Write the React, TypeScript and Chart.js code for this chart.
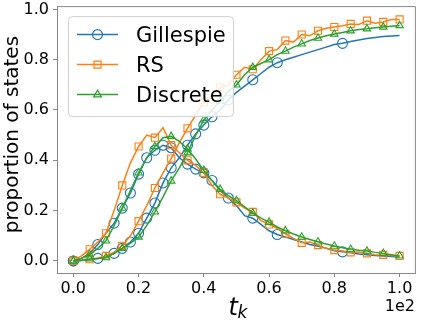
import React, { useEffect, useRef } from 'react';
import { Chart, registerables } from 'chart.js';
Chart.register(...registerables);

const T = [0, 2.5, 5, 7.5, 10, 12.5, 15, 17.5, 20, 22.5, 25, 27.5, 30, 32.5, 35, 37.5, 40, 42.5, 45, 47.5, 50, 52.5, 55, 57.5, 60, 62.5, 65, 67.5, 70, 72.5, 75, 77.5, 80, 82.5, 85, 87.5, 90, 92.5, 95, 97.5, 100];

const gillespieRise = [0, 0.002, 0.005, 0.01, 0.015, 0.03, 0.05, 0.075, 0.11, 0.17, 0.23, 0.31, 0.37, 0.41, 0.46, 0.505, 0.54, 0.573, 0.6, 0.64, 0.67, 0.695, 0.72, 0.745, 0.77, 0.788, 0.8, 0.81, 0.82, 0.83, 0.84, 0.85, 0.86, 0.865, 0.872, 0.878, 0.884, 0.888, 0.892, 0.894, 0.896];
const gillespieBump = [0, 0.01, 0.03, 0.065, 0.11, 0.15, 0.21, 0.27, 0.345, 0.41, 0.44, 0.46, 0.45, 0.41, 0.385, 0.365, 0.35, 0.32, 0.28, 0.25, 0.22, 0.18, 0.17, 0.145, 0.12, 0.105, 0.095, 0.085, 0.075, 0.065, 0.058, 0.05, 0.04, 0.036, 0.032, 0.028, 0.025, 0.022, 0.02, 0.018, 0.016];
const gillespieMarkT = [0, 7.5, 12.5, 15, 17.5, 20, 22.5, 25, 27.5, 30, 35, 37.5, 40, 42.5, 47.5, 55, 62.5, 82.5];

const rsRise = [0, 0.003, 0.007, 0.012, 0.02, 0.035, 0.06, 0.1, 0.158, 0.22, 0.29, 0.35, 0.407, 0.47, 0.527, 0.58, 0.63, 0.65, 0.69, 0.7, 0.74, 0.77, 0.762, 0.8, 0.834, 0.84, 0.876, 0.87, 0.9, 0.895, 0.915, 0.925, 0.93, 0.935, 0.942, 0.94, 0.955, 0.945, 0.95, 0.96, 0.96];
const rsBump = [0, 0.02, 0.046, 0.075, 0.11, 0.2, 0.3, 0.39, 0.455, 0.5, 0.49, 0.53, 0.46, 0.43, 0.4, 0.38, 0.35, 0.3, 0.265, 0.25, 0.233, 0.21, 0.195, 0.16, 0.145, 0.13, 0.108, 0.09, 0.072, 0.075, 0.063, 0.05, 0.043, 0.04, 0.034, 0.035, 0.03, 0.025, 0.024, 0.022, 0.02];

const discreteRise = [0, 0.003, 0.008, 0.01, 0.013, 0.03, 0.05, 0.07, 0.095, 0.14, 0.195, 0.255, 0.318, 0.37, 0.43, 0.5, 0.56, 0.6, 0.635, 0.675, 0.7, 0.74, 0.77, 0.785, 0.8, 0.82, 0.834, 0.85, 0.863, 0.876, 0.886, 0.895, 0.902, 0.908, 0.915, 0.92, 0.923, 0.927, 0.93, 0.933, 0.936];
const discreteBump = [0, 0.01, 0.025, 0.05, 0.08, 0.14, 0.21, 0.28, 0.35, 0.41, 0.455, 0.49, 0.495, 0.475, 0.445, 0.405, 0.36, 0.32, 0.285, 0.26, 0.24, 0.215, 0.19, 0.17, 0.154, 0.135, 0.12, 0.107, 0.095, 0.085, 0.076, 0.067, 0.059, 0.052, 0.046, 0.042, 0.039, 0.034, 0.03, 0.025, 0.02];

const X_TICKS = [0, 20, 40, 60, 80, 100];
const X_TICK_LABELS = ['0.0', '0.2', '0.4', '0.6', '0.8', '1.0'];
const Y_TICKS = [0, 0.2, 0.4, 0.6, 0.8, 1.0];
const Y_TICK_LABELS = ['0.0', '0.2', '0.4', '0.6', '0.8', '1.0'];
const LEGEND_LABELS = ['Gillespie', 'RS', 'Discrete'];

const BLUE = '#1f77b4';
const ORANGE = '#ff7f0e';
const GREEN = '#2ca02c';
const FONT = "'DejaVu Sans', sans-serif";
const SPINE = '#888';

function drawMarker(ctx: CanvasRenderingContext2D, style: string, x: number, y: number, r: number, color: string) {
  ctx.save();
  ctx.strokeStyle = color;
  ctx.lineWidth = 1.2;
  ctx.beginPath();
  if (style === 'circle') {
    ctx.arc(x, y, r, 0, Math.PI * 2);
  } else if (style === 'rect') {
    const s = r * Math.SQRT1_2;
    ctx.rect(x - s, y - s, 2 * s, 2 * s);
  } else {
    const h = r;
    ctx.moveTo(x, y - h);
    ctx.lineTo(x + h * 0.866, y + h * 0.5);
    ctx.lineTo(x - h * 0.866, y + h * 0.5);
    ctx.closePath();
  }
  ctx.stroke();
  ctx.restore();
}

const decor = {
  id: 'decor',
  afterDraw(chart: any) {
    const { ctx, chartArea: a } = chart;
    ctx.save();
    // top/right spines
    ctx.strokeStyle = SPINE;
    ctx.lineWidth = 1;
    ctx.beginPath();
    ctx.moveTo(a.left, a.top + 0.5);
    ctx.lineTo(a.right - 0.5, a.top + 0.5);
    ctx.lineTo(a.right - 0.5, a.bottom);
    ctx.stroke();

    // legend
    const lx = a.left + 11.5, ly = a.top + 10.5, lw = 165, lh = 100;
    ctx.beginPath();
    (ctx as any).roundRect(lx, ly, lw, lh, 4);
    ctx.fillStyle = 'rgba(255,255,255,0.85)';
    ctx.fill();
    ctx.strokeStyle = '#d0d0d0';
    ctx.lineWidth = 1;
    ctx.stroke();
    const colors = [BLUE, ORANGE, GREEN];
    const styles = ['circle', 'rect', 'triangle'];
    const radii = [5, 5, 4.5];
    for (let i = 0; i < 3; i++) {
      const y = a.top + 28.5 + i * 30;
      ctx.strokeStyle = colors[i];
      ctx.lineWidth = 1.5;
      ctx.beginPath();
      ctx.moveTo(a.left + 20, y);
      ctx.lineTo(a.left + 61, y);
      ctx.stroke();
      drawMarker(ctx, styles[i], a.left + 40.5, y, radii[i], colors[i]);
      ctx.fillStyle = '#000';
      ctx.font = `21px ${FONT}`;
      ctx.textAlign = 'left';
      ctx.textBaseline = 'alphabetic';
      ctx.fillText(LEGEND_LABELS[i], a.left + 79, y + 7.5);
    }

    // y title
    ctx.save();
    ctx.translate(13, (a.top + a.bottom) / 2 - 5);
    ctx.rotate(-Math.PI / 2);
    ctx.fillStyle = '#000';
    ctx.font = `20px ${FONT}`;
    ctx.textAlign = 'center';
    ctx.textBaseline = 'middle';
    ctx.fillText('proportion of states', 0, 0);
    ctx.restore();

    // x title t_k
    const cx = (a.left + a.right) / 2;
    ctx.fillStyle = '#000';
    ctx.textAlign = 'left';
    ctx.textBaseline = 'alphabetic';
    ctx.font = `italic 24px ${FONT}`;
    ctx.fillText('t', cx - 8, 315);
    ctx.font = `italic 17px ${FONT}`;
    ctx.fillText('k', cx + 1, 318);

    // offset text
    ctx.font = `16px ${FONT}`;
    ctx.textAlign = 'right';
    ctx.fillText('1e2', a.right - 1, 311);
    ctx.restore();
  },
};

function mk(label: string, data: number[], color: string, style: string, radius: any, order: number) {
  return {
    label,
    data: T.map((t, i) => ({ x: t, y: data[i] })),
    borderColor: color,
    backgroundColor: 'rgba(0,0,0,0)',
    borderWidth: 1.5,
    pointStyle: style,
    pointRadius: radius,
    pointBorderColor: color,
    pointBackgroundColor: 'rgba(0,0,0,0)',
    pointBorderWidth: 1.1,
    tension: 0,
    order,
    showLine: true,
  };
}

export default function App() {
  const ref = useRef<HTMLCanvasElement>(null);
  useEffect(() => {
    if (!ref.current) return;
    const blueR = (c: any) => (gillespieMarkT.includes(T[c.dataIndex]) ? 5 : 0);
    const everyFive = (r: number) => (c: any) => (c.dataIndex % 2 === 0 ? r : 0);
    const chart = new Chart(ref.current, {
      type: 'scatter',
      data: {
        datasets: [
          mk('Gillespie', gillespieRise, BLUE, 'circle', blueR, 3),
          mk('Gillespie', gillespieBump, BLUE, 'circle', blueR, 3),
          mk('RS', rsRise, ORANGE, 'rect', everyFive(5), 2),
          mk('RS', rsBump, ORANGE, 'rect', everyFive(5), 2),
          mk('Discrete', discreteRise, GREEN, 'triangle', everyFive(4.3), 1),
          mk('Discrete', discreteBump, GREEN, 'triangle', everyFive(4.3), 1),
        ] as any,
      },
      options: {
        responsive: false,
        animation: false,
        devicePixelRatio: 1,
        layout: { padding: { left: 0, right: 4, top: 3, bottom: 0 } },
        plugins: { legend: { display: false }, tooltip: { enabled: false } },
        scales: {
          x: {
            type: 'linear',
            min: -5,
            max: 105,
            afterBuildTicks: (s: any) => { s.ticks = X_TICKS.map((v) => ({ value: v })); },
            afterFit: (s: any) => { s.height = 47; s.paddingLeft = 0; s.paddingRight = 0; },
            ticks: {
              callback: (_v: any, i: number) => X_TICK_LABELS[i],
              font: { family: FONT, size: 16 },
              color: '#000',
              padding: 2,
              maxRotation: 0,
            },
            grid: { drawOnChartArea: false, drawTicks: true, tickLength: 4, color: SPINE },
            border: { color: SPINE, width: 1 },
          },
          y: {
            type: 'linear',
            min: -0.048,
            max: 1.013,
            afterBuildTicks: (s: any) => { s.ticks = Y_TICKS.map((v) => ({ value: v })); },
            afterFit: (s: any) => { s.width = 57; s.paddingTop = 0; s.paddingBottom = 0; },
            ticks: {
              callback: (_v: any, i: number) => Y_TICK_LABELS[i],
              font: { family: FONT, size: 16 },
              color: '#000',
              padding: 4,
            },
            grid: { drawOnChartArea: false, drawTicks: true, tickLength: 4, color: SPINE },
            border: { color: SPINE, width: 1 },
          },
        },
      },
      plugins: [decor],
    });
    return () => chart.destroy();
  }, []);
  return (
    <div style={{ position: 'absolute', left: 0, top: 0, width: 422, height: 320, background: '#fff' }}>
      <canvas ref={ref} width={422} height={320} />
    </div>
  );
}
